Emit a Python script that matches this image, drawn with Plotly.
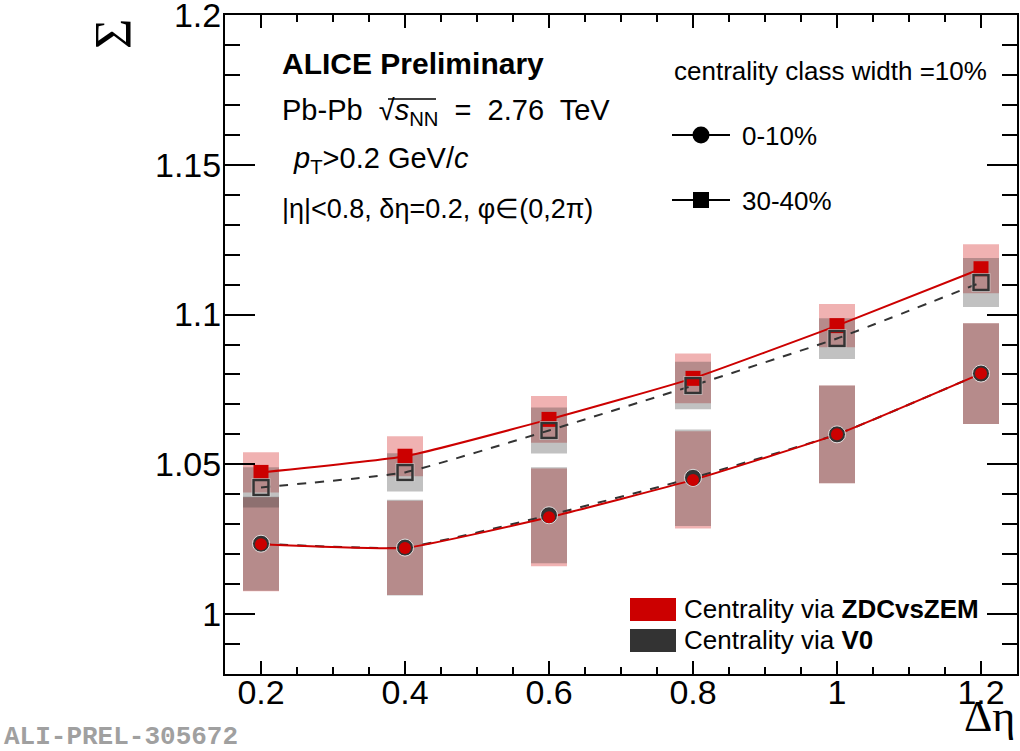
import plotly.graph_objects as go

# Δη bins
deta = [0.2, 0.4, 0.6, 0.8, 1.0, 1.2]

# 0-10% centrality
w_c0_zdc = [1.0233, 1.0221, 1.0323, 1.0448, 1.0600, 1.0803]
s_c0_zdc = [0.0157, 0.0157, 0.0163, 0.0162, 0.0163, 0.0168]
w_c0_v0 = [1.0235, 1.0222, 1.0330, 1.0455, 1.0600, 1.0803]
s_c0_v0 = [0.0157, 0.0160, 0.0160, 0.0161, 0.0163, 0.0168]

# 30-40% centrality
w_c3_zdc = [1.0473, 1.0527, 1.0650, 1.0787, 1.0963, 1.1153]
s_c3_zdc = [0.0067, 0.0067, 0.0078, 0.0083, 0.0072, 0.0082]
w_c3_v0 = [1.0423, 1.0473, 1.0613, 1.0763, 1.0920, 1.1107]
s_c3_v0 = [0.0067, 0.0064, 0.0077, 0.0079, 0.0068, 0.0082]

x_ticks = [0.2, 0.4, 0.6, 0.8, 1.0, 1.2]
x_ticktext = ["0.2", "0.4", "0.6", "0.8", "1", "1.2"]
y_ticks = [1.0, 1.05, 1.1, 1.15, 1.2]
y_ticktext = ["1", "1.05", "1.1", "1.15", "1.2"]

RED = "#cc0000"
DARK = "#333333"
ZDC_BOX = "rgba(204,0,0,0.3)"
V0_BOX = "rgba(51,51,51,0.3)"
BOX_HALF = 0.025

W, H = 1020, 751
L, R, T, B = 225, 3, 15, 77
PW, PH = W - L - R, H - T - B


def px(x):
    return (x - L) / PW


def py(y):
    return (H - B - y) / PH


FONT = "Liberation Sans, Arial, sans-serif"
SERIF = "Liberation Serif, Times New Roman, serif"

fig = go.Figure()

# systematic boxes: ZDCvsZEM first, V0 drawn over them
shapes = []
for vals, errs, col in [(w_c3_zdc, s_c3_zdc, ZDC_BOX), (w_c0_zdc, s_c0_zdc, ZDC_BOX),
                        (w_c3_v0, s_c3_v0, V0_BOX), (w_c0_v0, s_c0_v0, V0_BOX)]:
    for x, v, e in zip(deta, vals, errs):
        shapes.append(dict(type="rect", xref="x", yref="y", layer="below",
                           x0=x - BOX_HALF, x1=x + BOX_HALF, y0=v - e, y1=v + e,
                           fillcolor=col, line=dict(width=0)))

# connecting curves
for vals, col, dash in [(w_c3_v0, DARK, "dash"), (w_c0_v0, DARK, "dash"),
                        (w_c3_zdc, RED, "solid"), (w_c0_zdc, RED, "solid")]:
    fig.add_trace(go.Scatter(x=deta, y=vals, mode="lines", showlegend=False,
                             line=dict(color=col, width=2, dash=dash,
                                       shape="spline", smoothing=0.4),
                             hoverinfo="skip"))

# 0-10%: V0 circle underneath, ZDCvsZEM circle on top
fig.add_trace(go.Scatter(x=deta, y=w_c0_v0, mode="markers", showlegend=False,
                         marker=dict(symbol="circle", size=17, color=DARK,
                                     line=dict(color="rgba(235,235,235,0.9)", width=1))))
fig.add_trace(go.Scatter(x=deta, y=w_c0_zdc, mode="markers", showlegend=False,
                         marker=dict(symbol="circle", size=12, color=RED,
                                     line=dict(width=0))))

# 30-40%: filled ZDCvsZEM squares, open V0 squares over them
fig.add_trace(go.Scatter(x=deta, y=w_c3_zdc, mode="markers", showlegend=False,
                         marker=dict(symbol="square", size=15, color=RED,
                                     line=dict(width=0))))
fig.add_trace(go.Scatter(x=deta, y=w_c3_v0, mode="markers", showlegend=False,
                         marker=dict(symbol="square-open", size=17,
                                     color="rgba(240,240,240,0.9)",
                                     line=dict(width=1.5))))
fig.add_trace(go.Scatter(x=deta, y=w_c3_v0, mode="markers", showlegend=False,
                         marker=dict(symbol="square-open", size=15, color=DARK,
                                     line=dict(width=2.5))))

# marker-style key (top right)
for yk in (135, 200):
    shapes.append(dict(type="line", xref="paper", yref="paper",
                       x0=px(672), x1=px(730), y0=py(yk), y1=py(yk),
                       line=dict(color="black", width=2)))
shapes.append(dict(type="circle", xref="paper", yref="paper",
                   xsizemode="pixel", ysizemode="pixel",
                   xanchor=px(701), yanchor=py(135), x0=-8.5, x1=8.5, y0=-8.5, y1=8.5,
                   fillcolor="black", line=dict(width=0)))
shapes.append(dict(type="rect", xref="paper", yref="paper",
                   xsizemode="pixel", ysizemode="pixel",
                   xanchor=px(701), yanchor=py(200), x0=-8, x1=8, y0=-8, y1=8,
                   fillcolor="black", line=dict(width=0)))

# colour key (bottom right)
for y0, col in [(598, RED), (629, DARK)]:
    shapes.append(dict(type="rect", xref="paper", yref="paper",
                       x0=px(630), x1=px(676), y0=py(y0 + 23), y1=py(y0),
                       fillcolor=col, line=dict(width=0)))

# overline of the square root
shapes.append(dict(type="line", xref="paper", yref="paper",
                   x0=px(388), x1=px(436), y0=py(99), y1=py(99),
                   line=dict(color="black", width=1.5)))

ann = []


def text(x, y, s, size, font=FONT, color="black", xanchor="left", angle=0):
    ann.append(dict(x=px(x), y=py(y), xref="paper", yref="paper", text=s,
                    showarrow=False, xanchor=xanchor, yanchor="middle",
                    textangle=angle, font=dict(family=font, size=size, color=color)))


text(280, 63, "<b>ALICE Preliminary</b>", 30)
text(280, 112, "Pb-Pb  √<i>s</i><sub>NN</sub>  =  2.76  TeV", 29)
text(284, 160, " <i>p</i><sub>T</sub>>0.2 GeV/<i>c</i>", 29)
text(280, 209, "|η|<0.8, δη=0.2, φ∈(0,2π)", 27)
text(672, 71, "centrality class width =10%", 26)
text(740, 136, "0-10%", 26)
text(740, 201, "30-40%", 26)
text(682, 609, "Centrality via <b>ZDCvsZEM</b>", 26)
text(682, 640, "Centrality via <b>V0</b>", 26)
text(1017, 716, "Δη", 44, font=SERIF, xanchor="right")
text(114, 34, "Σ", 52, font=SERIF, xanchor="center", angle=-90)
text(2, 737, "<b>ALI-PREL-305672</b>", 26,
     font="Liberation Mono, Courier New, monospace", color="#a0a0a0")

fig.update_layout(
    width=W, height=H,
    margin=dict(l=L, r=R, t=T, b=B, autoexpand=False),
    paper_bgcolor="white", plot_bgcolor="white",
    shapes=shapes, annotations=ann,
    showlegend=False,
    xaxis=dict(range=[0.15, 1.25], tickvals=x_ticks, ticktext=x_ticktext,
               ticks="inside", ticklen=13, tickwidth=2, tickcolor="black",
               minor=dict(dtick=0.05, tick0=0.0, ticks="inside", ticklen=7,
                          tickwidth=2, tickcolor="black"),
               showline=True, linecolor="black", linewidth=2, mirror="ticks",
               showgrid=False, zeroline=False, ticklabelstandoff=-13,
               ticklabeloverflow="allow", automargin=False,
               tickfont=dict(family=FONT, size=34, color="black")),
    yaxis=dict(range=[0.98, 1.2], tickvals=y_ticks, ticktext=y_ticktext,
               ticks="inside", ticklen=30, tickwidth=2, tickcolor="black",
               minor=dict(dtick=0.01, tick0=0.0, ticks="inside", ticklen=15,
                          tickwidth=2, tickcolor="black"),
               showline=True, linecolor="black", linewidth=2, mirror="ticks",
               showgrid=False, zeroline=False, ticklabelstandoff=-5,
               ticklabeloverflow="allow", automargin=False,
               tickfont=dict(family=FONT, size=34, color="black")),
)

fig.write_html("out.html")
